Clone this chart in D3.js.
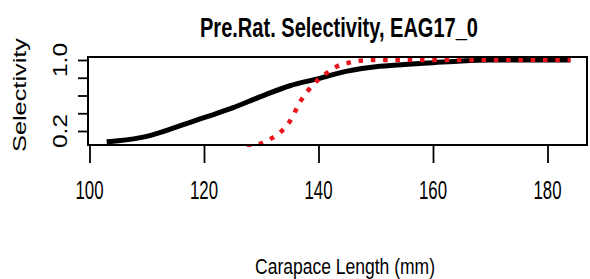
<!DOCTYPE html>
<html><head><meta charset="utf-8">
<script src="https://cdn.jsdelivr.net/npm/d3@7"></script>
<style>body{margin:0;background:#fff}svg{display:block}text{font-family:"Liberation Sans",Arial,sans-serif;fill:#000}</style>
</head><body><svg id="c" width="590" height="279"></svg>
<script>
const title = "Pre.Rat. Selectivity, EAG17_0";
const xLabel = "Carapace Length (mm)";
const yLabel = "Selectivity";
const xTicks = [100, 120, 140, 160, 180];
const yTicks = [0.2, 0.4, 0.6, 0.8, 1.0];
const yTickLabels = ["0.2", "", "", "", "1.0"];

const blackX = [103, 105, 110, 115, 120, 125, 130, 135, 140, 145, 150, 155, 160, 165, 170, 175, 180, 184];
const blackY = [0.08, 0.09, 0.14, 0.24, 0.35, 0.46, 0.59, 0.71, 0.79, 0.875, 0.925, 0.95, 0.97, 0.99, 1.0, 1.0, 1.0, 1.0];
const redX = [127.5, 128, 129, 130, 131, 132, 133, 134, 135, 136, 137, 138, 139, 140, 141, 142, 143, 144, 145, 146, 147, 148, 150, 160, 170, 184];
const redY = [0.02, 0.027, 0.04, 0.06, 0.09, 0.125, 0.165, 0.23, 0.31, 0.43, 0.55, 0.64, 0.72, 0.78, 0.83, 0.88, 0.92, 0.95, 0.965, 0.98, 0.99, 0.995, 1.0, 1.0, 1.0, 1.0];

const svg = d3.select("#c");
const L = 88, R = 587, T = 57, B = 145;
const x = d3.scaleLinear().domain([99.74, 186.9]).range([L, R]);
const y = d3.scaleLinear().domain([0.0423, 1.0338]).range([B, T]);

svg.append("defs").append("clipPath").attr("id", "clip")
  .append("rect").attr("x", L).attr("y", T).attr("width", R - L).attr("height", B - T + 2);

const line = d3.line().x(d => x(d[0])).y(d => y(d[1])).curve(d3.curveMonotoneX);
const g = svg.append("g").attr("clip-path", "url(#clip)");
g.append("path").datum(blackX.map((v, i) => [v, blackY[i]]))
  .attr("d", line).attr("fill", "none").attr("stroke", "#000").attr("stroke-width", 5);
g.append("path").datum(redX.map((v, i) => [v, redY[i]]))
  .attr("d", line).attr("fill", "none").attr("stroke", "#e8141a").attr("stroke-width", 4.5)
  .attr("stroke-dasharray", "4.5 7.8");

svg.append("rect").attr("x", L).attr("y", T).attr("width", R - L).attr("height", B - T)
  .attr("fill", "none").attr("stroke", "#000").attr("stroke-width", 2);

// x axis
const xa = svg.append("g").attr("transform", `translate(0,${B})`)
  .call(d3.axisBottom(x).tickValues(xTicks).tickSize(18).tickFormat(""));
xa.select(".domain").remove();
xa.selectAll(".tick line").attr("stroke-width", 1.8);
xTicks.forEach(t => {
  svg.append("text").attr("x", x(t)).attr("y", 199).attr("text-anchor", "middle")
    .attr("font-size", 25.5).attr("textLength", 28).attr("lengthAdjust", "spacingAndGlyphs")
    .text(String(t));
});
// y axis
const ya = svg.append("g").attr("transform", `translate(${L},0)`)
  .call(d3.axisLeft(y).tickValues(yTicks).tickSize(10).tickFormat(""));
ya.select(".domain").remove();
ya.selectAll(".tick line").attr("stroke-width", 1.8);
yTicks.forEach((t, i) => {
  if (!yTickLabels[i]) return;
  svg.append("text").attr("transform", `translate(67,${y(t)}) rotate(-90)`)
    .attr("text-anchor", "middle").attr("font-size", 21)
    .attr("textLength", 34).attr("lengthAdjust", "spacingAndGlyphs").text(yTickLabels[i]);
});

svg.append("text").attr("x", 339).attr("y", 37).attr("text-anchor", "middle")
  .attr("font-size", 27).attr("font-weight", "bold")
  .attr("textLength", 278).attr("lengthAdjust", "spacingAndGlyphs").text(title);
svg.append("text").attr("x", 345).attr("y", 274).attr("text-anchor", "middle")
  .attr("font-size", 22).attr("textLength", 180).attr("lengthAdjust", "spacingAndGlyphs").text(xLabel);
svg.append("text").attr("transform", "translate(26,95) rotate(-90)").attr("text-anchor", "middle")
  .attr("font-size", 18.5).attr("textLength", 114).attr("lengthAdjust", "spacingAndGlyphs").text(yLabel);
</script></body></html>
